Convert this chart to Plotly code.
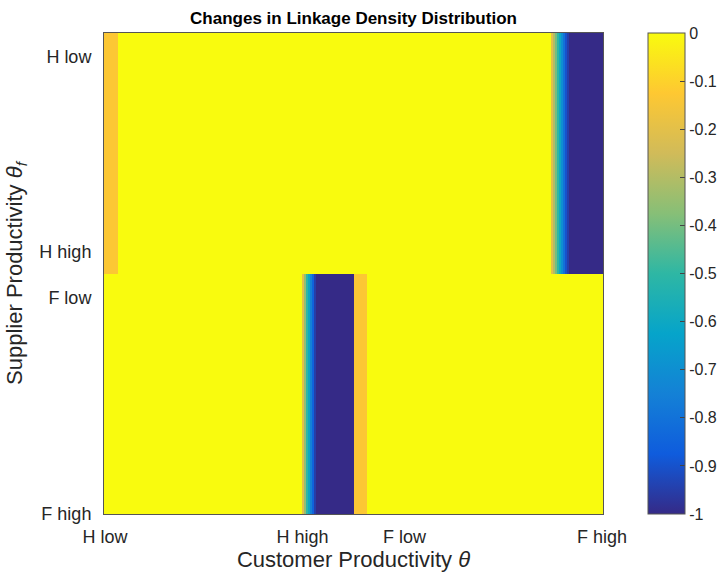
import plotly.graph_objects as go
import numpy as np

# ---- data ----
x_tick_vals = [1, 100, 151, 250]
x_tick_text = ["H low", "H high", "F low", "F high"]
y_tick_vals = [0.60, 1.41, 1.60, 2.5]
y_tick_text = ["H low", "H high", "F low", "F high"]

# run-length encoded columns: (number of columns, value)
row_h_runs = [(7, -0.13), (217, 0.0), (1, -0.2), (1, -0.3), (1, -0.4), (1, -0.5),
              (1, -0.6), (1, -0.7), (1, -0.8), (1, -0.9), (1, -0.95), (17, -1.0)]
row_f_runs = [(99, 0.0), (1, -0.2), (1, -0.35), (1, -0.5), (1, -0.6), (1, -0.75),
              (1, -0.85), (1, -0.95), (19, -1.0), (7, -0.13), (118, 0.0)]

cbar_vals = [0, -0.1, -0.2, -0.3, -0.4, -0.5, -0.6, -0.7, -0.8, -0.9, -1]
cbar_text = ["0", "-0.1", "-0.2", "-0.3", "-0.4", "-0.5", "-0.6", "-0.7", "-0.8", "-0.9", "-1"]

parula = ['#352a87', '#0f5cdd', '#1481d6', '#06a4ca', '#2eb7a4',
          '#87bf77', '#d1bb59', '#fec832', '#f9fb0e']


def expand(runs):
    out = []
    for n, v in runs:
        out.extend([v] * n)
    return out


z = [expand(row_h_runs), expand(row_f_runs)]
ncol = len(z[0])
x = list(range(1, ncol + 1))
y = [1, 2]

colorscale = [[i / (len(parula) - 1), c] for i, c in enumerate(parula)]

TXT = '#262626'
FONT = 'Liberation Sans, Arial, sans-serif'

fig = go.Figure(go.Heatmap(
    z=z, x=x, y=y, zmin=-1, zmax=0, zsmooth=False,
    colorscale=colorscale,
    colorbar=dict(
        xref='container', x=648 / 722, xanchor='left', xpad=0, ypad=0,
        y=0.5, yanchor='middle', len=1, lenmode='fraction',
        thickness=37, outlinewidth=1, outlinecolor='#555555',
        tickvals=cbar_vals, ticktext=cbar_text, ticks='inside', ticklen=5,
        tickcolor='#444444', tickfont=dict(family=FONT, size=16, color=TXT),
    ),
    hoverinfo='skip',
))

fig.update_layout(
    width=722, height=577,
    margin=dict(l=104, r=119, t=33, b=63),
    paper_bgcolor='white', plot_bgcolor='white',
    font=dict(family=FONT, color=TXT),
    title=dict(text='<b>Changes in Linkage Density Distribution</b>',
               x=(104 + 603) / 2 / 722, xanchor='center', y=1 - 18 / 577, yanchor='middle',
               font=dict(size=17, color='black', family=FONT)),
    xaxis=dict(range=[0.5, ncol + 0.5], tickvals=x_tick_vals, ticktext=x_tick_text,
               tickfont=dict(size=18, color=TXT), ticks='', showgrid=False, zeroline=False,
               showline=True, mirror=True, linecolor='#555555', linewidth=1,
               ticklabelstandoff=6,
               title=dict(text='Customer Productivity <i>θ</i>', font=dict(size=22, color=TXT),
                          standoff=4)),
    yaxis=dict(range=[2.501, 0.5], tickvals=y_tick_vals, ticktext=y_tick_text,
               tickfont=dict(size=18, color=TXT), ticks='', showgrid=False, zeroline=False,
               showline=True, mirror=True, linecolor='#555555', linewidth=1,
               ticklabelstandoff=8,
               title=dict(text='Supplier Productivity <i>θ<sub>f</sub></i>', font=dict(size=22, color=TXT),
                          standoff=10)),
)

fig.write_html("out.html")
